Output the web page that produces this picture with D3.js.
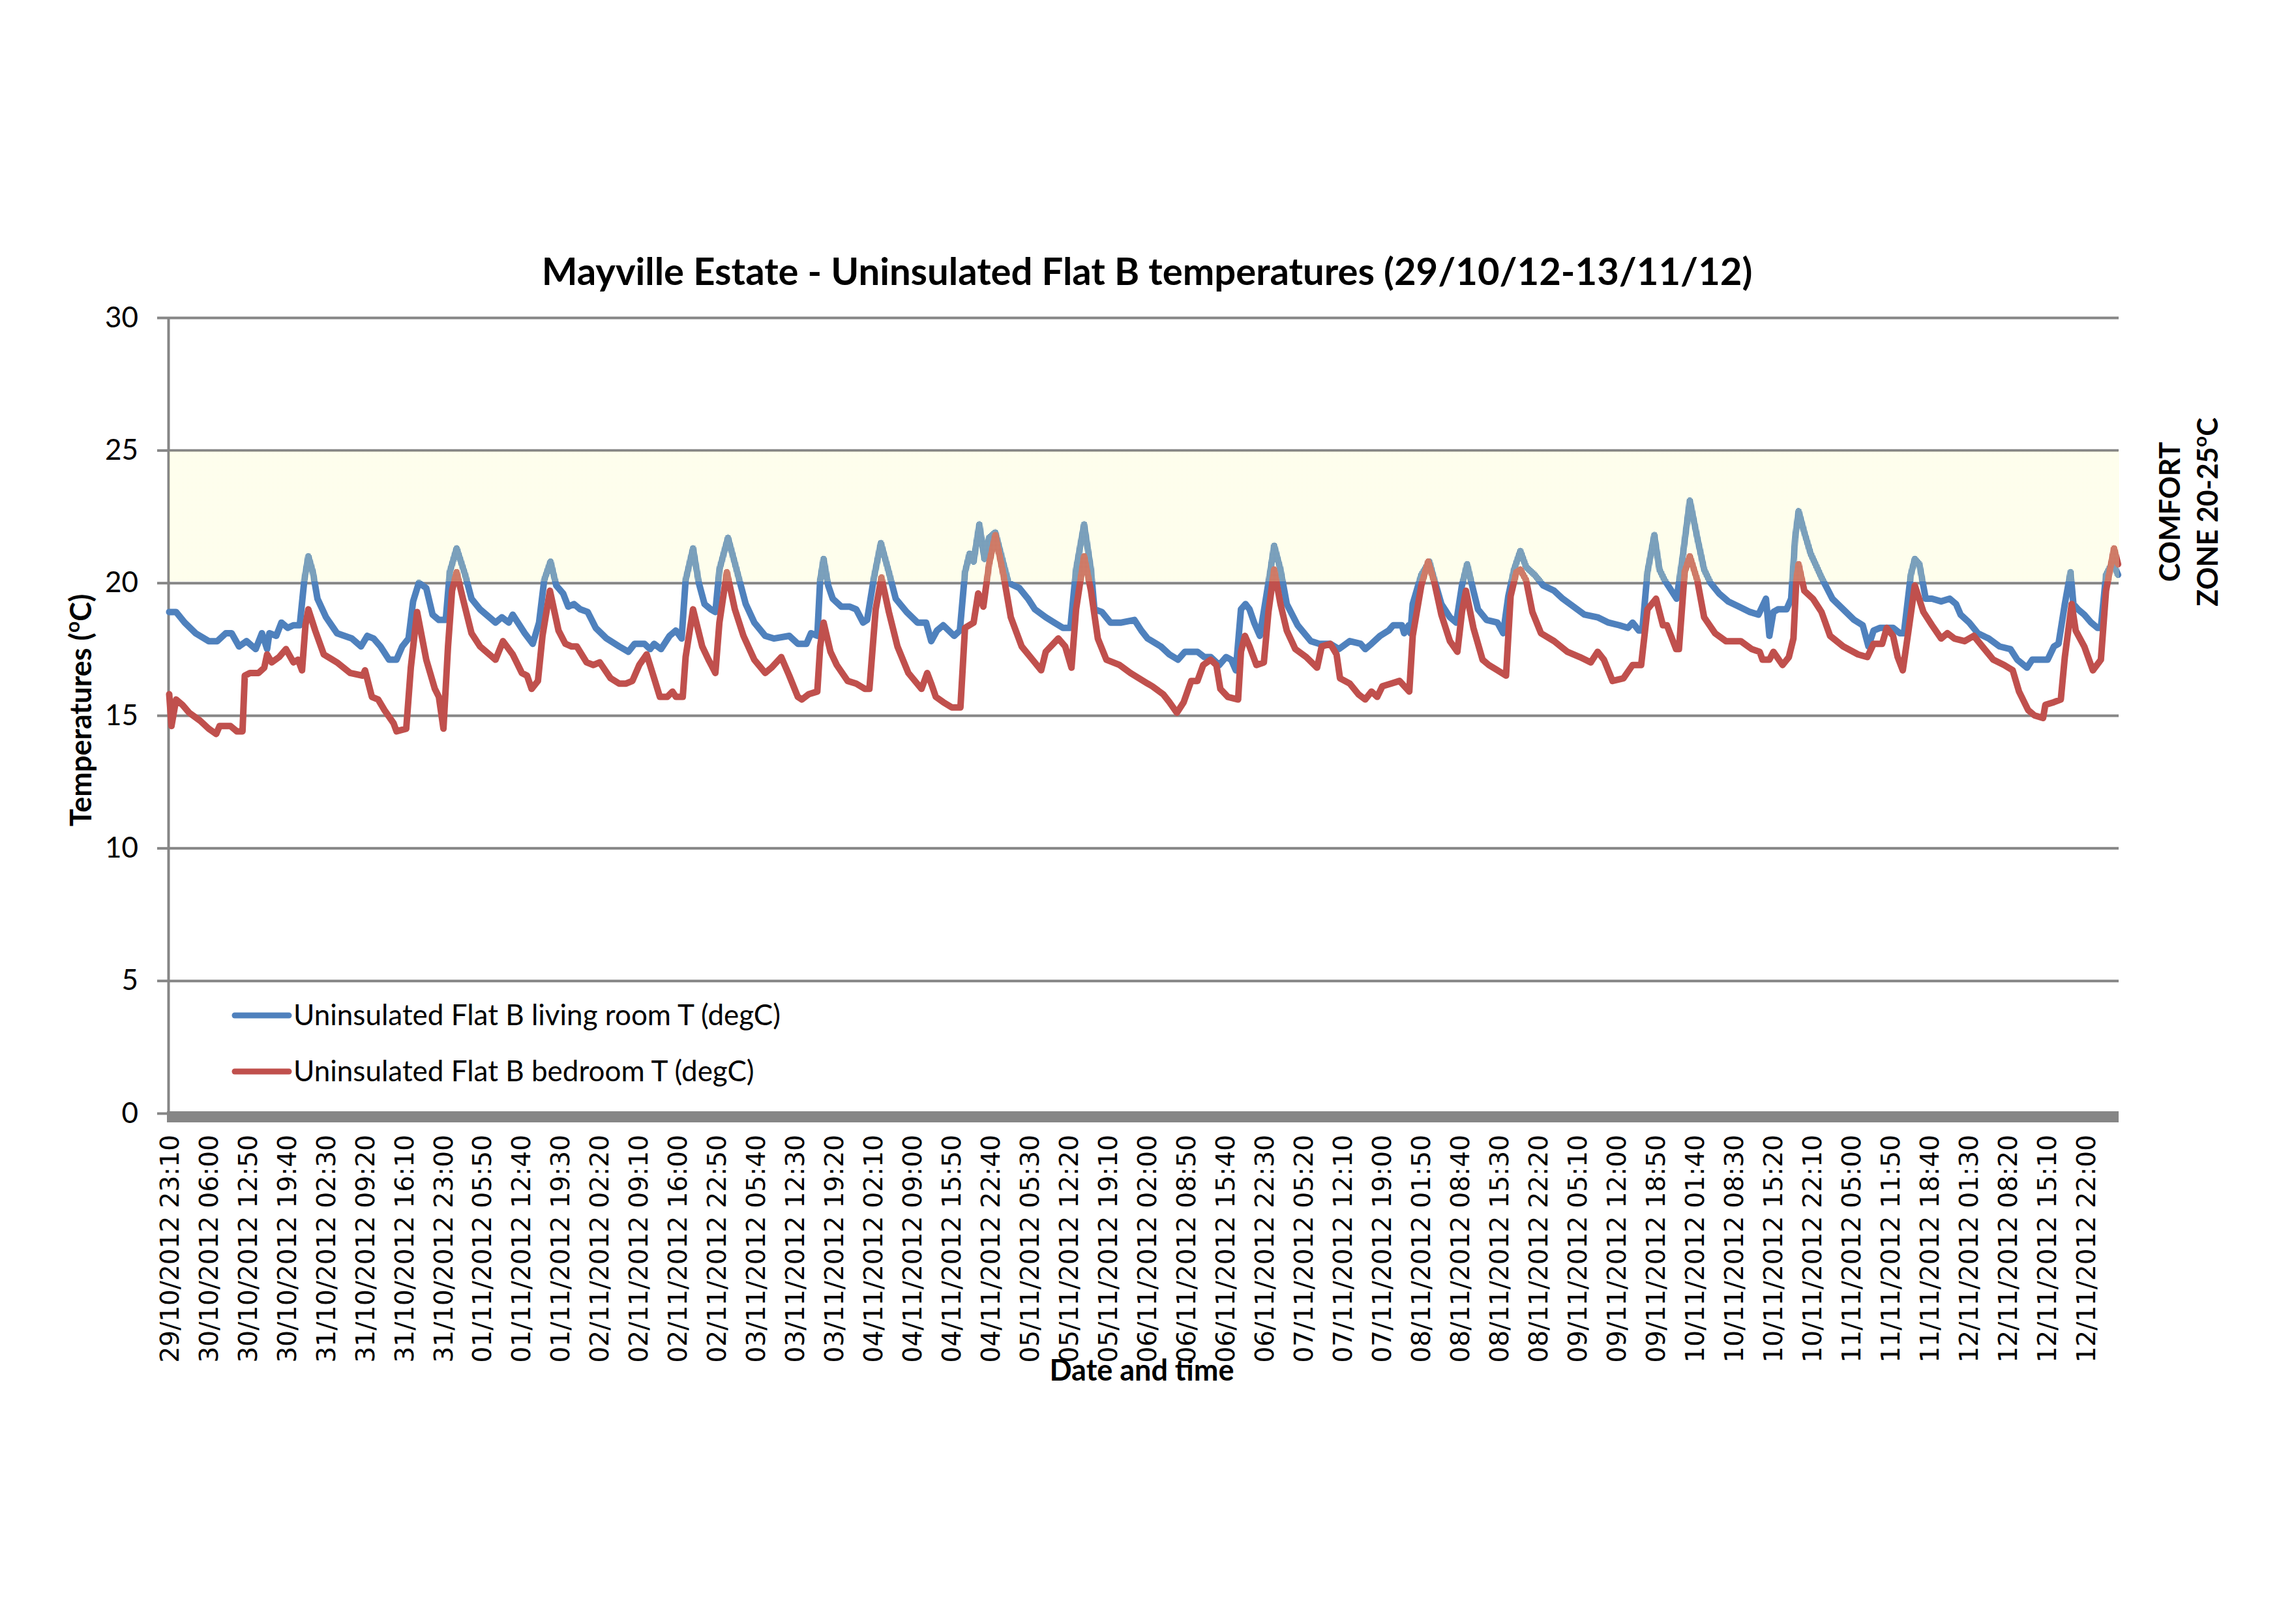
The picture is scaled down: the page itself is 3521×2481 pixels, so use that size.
<!DOCTYPE html>
<html>
<head>
<meta charset="utf-8">
<script src="https://d3js.org/d3.v7.min.js"></script>
<style>
  body { margin: 0; background: #ffffff; }
  text { font-family: Lato, "Open Sans", sans-serif; fill: #000; }
</style>
</head>
<body>
<div id="chart"></div>
<script>

// readings as [hours after 29/10/2012 23:10, degC]
var livingRoom = [
  [0.0,18.9],[1.2,18.9],[2.7,18.5],[4.6,18.1],[6.9,17.8],[8.4,17.8],[9.9,18.1],[10.9,18.1],[12.2,17.6],[13.5,17.8],
  [15.1,17.5],[16.2,18.1],[17.1,17.5],[17.5,18.1],[18.7,18.0],[19.6,18.5],[20.7,18.3],[21.7,18.4],[22.8,18.4],[23.6,20.1],
  [24.3,21.0],[25.1,20.4],[25.9,19.4],[27.4,18.7],[29.3,18.1],[31.9,17.9],[33.5,17.6],[34.6,18.0],[35.7,17.9],[36.9,17.6],
  [38.4,17.1],[39.7,17.1],[40.7,17.6],[41.8,17.9],[42.6,19.3],[43.6,20.0],[44.9,19.8],[46.0,18.8],[47.1,18.6],[48.3,18.6],
  [49.0,20.4],[50.2,21.3],[51.7,20.3],[52.8,19.4],[54.3,19.0],[57.0,18.5],[58.1,18.7],[59.3,18.5],[60.0,18.8],[61.2,18.4],
  [62.1,18.1],[63.5,17.7],[64.6,18.5],[65.5,20.1],[66.6,20.8],[67.6,19.9],[68.8,19.6],[69.7,19.1],[70.7,19.2],[71.8,19.0],
  [73.1,18.9],[74.5,18.3],[76.4,17.9],[78.6,17.6],[80.2,17.4],[81.3,17.7],[83.0,17.7],[84.0,17.5],[84.7,17.7],[85.9,17.5],
  [87.4,18.0],[88.5,18.2],[89.5,17.9],[90.2,20.1],[91.5,21.3],[92.5,20.0],[93.5,19.2],[94.6,19.0],[95.4,18.9],[96.1,20.5],
  [97.6,21.7],[99.1,20.5],[100.7,19.2],[102.2,18.5],[104.1,18.0],[105.6,17.9],[108.3,18.0],[109.8,17.7],[111.3,17.7],[112.1,18.1],
  [113.2,18.0],[113.7,20.1],[114.3,20.9],[115.1,19.9],[115.9,19.4],[117.4,19.1],[118.9,19.1],[120.0,19.0],[121.2,18.5],[121.9,18.6],
  [123.1,20.2],[124.3,21.5],[125.7,20.4],[126.9,19.4],[128.8,18.9],[130.7,18.5],[132.2,18.5],[133.1,17.8],[134.1,18.2],[135.2,18.4],
  [137.1,18.0],[138.1,18.2],[139.0,20.4],[139.8,21.1],[140.5,20.8],[141.5,22.2],[142.4,20.9],[143.2,21.7],[144.3,21.9],[145.5,20.9],
  [146.6,20.0],[148.5,19.8],[150.0,19.4],[151.2,19.0],[153.1,18.7],[154.6,18.5],[156.1,18.3],[157.4,18.3],[158.4,20.5],[159.8,22.2],
  [161.0,20.5],[161.6,19.0],[162.9,18.9],[164.4,18.5],[166.3,18.5],[168.6,18.6],[169.8,18.2],[170.9,17.9],[173.2,17.6],[174.7,17.3],
  [176.2,17.1],[177.4,17.4],[179.6,17.4],[180.8,17.2],[181.9,17.2],[183.4,16.9],[184.6,17.2],[185.5,17.1],[186.3,16.7],[187.2,19.0],
  [188.0,19.2],[188.7,19.0],[189.5,18.5],[190.5,18.0],[191.4,19.2],[192.3,20.4],[193.0,21.4],[194.1,20.5],[195.2,19.2],[197.1,18.4],
  [199.4,17.8],[200.9,17.7],[202.8,17.7],[204.3,17.5],[206.2,17.8],[208.1,17.7],[208.9,17.5],[210.0,17.7],[211.5,18.0],[213.0,18.2],
  [213.8,18.4],[215.3,18.4],[215.7,18.1],[216.5,18.4],[216.8,18.1],[217.2,19.2],[218.7,20.3],[220.1,20.8],[221.0,20.1],[222.2,19.2],
  [223.7,18.7],[224.8,18.5],[225.8,19.9],[226.7,20.7],[227.8,19.7],[228.6,19.0],[230.1,18.6],[232.0,18.5],[233.0,18.1],[233.9,19.5],
  [234.9,20.5],[236.0,21.2],[237.0,20.6],[238.5,20.3],[240.0,19.9],[241.9,19.7],[243.4,19.4],[245.3,19.1],[247.2,18.8],[249.5,18.7],
  [251.4,18.5],[253.3,18.4],[254.8,18.3],[255.6,18.5],[256.7,18.2],[257.3,18.2],[258.2,20.4],[259.4,21.8],[260.3,20.5],[261.2,20.1],
  [262.4,19.7],[263.3,19.4],[264.3,20.9],[265.6,23.1],[266.9,21.7],[268.1,20.5],[269.2,20.0],[270.7,19.6],[272.3,19.3],[274.2,19.1],
  [276.1,18.9],[277.6,18.8],[278.9,19.4],[279.5,18.0],[280.2,18.9],[281.0,19.0],[282.5,19.0],[283.3,19.4],[284.0,21.7],[284.6,22.7],
  [285.6,21.9],[286.7,21.1],[288.6,20.2],[290.5,19.4],[292.4,19.0],[294.3,18.6],[295.8,18.4],[296.8,17.6],[297.7,18.2],[298.8,18.3],
  [301.1,18.3],[302.3,18.1],[303.0,18.1],[304.2,20.3],[304.9,20.9],[305.7,20.7],[306.8,19.4],[307.9,19.4],[309.5,19.3],[311.0,19.4],
  [312.1,19.2],[312.9,18.8],[314.4,18.5],[315.9,18.1],[317.8,17.9],[319.7,17.6],[321.6,17.5],[322.8,17.1],[324.5,16.8],[325.4,17.1],
  [328.1,17.1],[329.2,17.6],[330.0,17.7],[331.1,19.2],[332.1,20.4],[332.6,19.2],[333.4,19.0],[334.5,18.8],[335.7,18.5],[336.8,18.3],
  [337.4,18.3],[338.3,20.3],[339.5,20.8],[340.2,20.4],[340.4,20.3]
];

var bedroom = [
  [0.0,15.8],[0.4,14.6],[1.2,15.6],[2.3,15.4],[3.5,15.1],[5.4,14.8],[6.9,14.5],[8.2,14.3],[8.8,14.6],[10.7,14.6],
  [11.8,14.4],[12.8,14.4],[13.2,16.5],[14.1,16.6],[15.6,16.6],[16.6,16.8],[17.1,17.3],[17.9,17.0],[19.2,17.2],[20.4,17.5],
  [21.7,17.0],[22.5,17.1],[23.2,16.7],[23.8,18.4],[24.3,19.0],[25.5,18.2],[27.0,17.3],[29.3,17.0],[31.6,16.6],[33.8,16.5],
  [34.2,16.7],[35.4,15.7],[36.5,15.6],[37.6,15.2],[39.2,14.7],[39.7,14.4],[41.4,14.5],[42.2,16.8],[43.3,18.9],[44.9,17.1],
  [46.4,16.0],[47.1,15.7],[47.9,14.5],[48.7,17.6],[49.4,19.7],[50.2,20.4],[51.3,19.4],[52.8,18.1],[54.3,17.6],[57.0,17.1],
  [58.3,17.8],[60.0,17.3],[61.6,16.6],[62.5,16.5],[63.3,16.0],[64.4,16.3],[65.2,18.0],[66.5,19.7],[68.0,18.2],[69.2,17.7],
  [70.3,17.6],[71.2,17.6],[72.9,17.0],[74.1,16.9],[75.2,17.0],[77.1,16.4],[78.6,16.2],[79.8,16.2],[80.9,16.3],[82.1,16.9],
  [83.4,17.3],[84.7,16.4],[85.7,15.7],[87.0,15.7],[87.9,15.9],[88.5,15.7],[89.7,15.7],[90.2,17.2],[91.5,19.0],[93.1,17.6],
  [94.2,17.1],[95.4,16.6],[96.1,18.5],[97.4,20.4],[98.8,19.0],[100.3,18.0],[102.2,17.1],[104.1,16.6],[105.2,16.8],[106.9,17.2],
  [108.3,16.5],[109.8,15.7],[110.5,15.6],[111.7,15.8],[113.2,15.9],[113.7,17.6],[114.3,18.5],[115.5,17.4],[116.6,16.9],[118.5,16.3],
  [120.0,16.2],[121.5,16.0],[122.3,16.0],[123.4,19.0],[124.4,20.2],[125.7,18.9],[127.2,17.6],[129.1,16.6],[131.4,16.0],[132.4,16.6],
  [133.1,16.2],[133.9,15.7],[135.2,15.5],[136.7,15.3],[138.2,15.3],[139.0,18.3],[140.5,18.5],[141.3,19.6],[142.2,19.1],[143.2,20.7],
  [144.3,21.8],[145.8,20.2],[147.0,18.7],[148.9,17.6],[150.8,17.1],[152.3,16.7],[153.1,17.4],[155.3,17.9],[156.5,17.6],[157.6,16.8],
  [158.4,19.0],[159.8,21.0],[161.0,19.7],[162.2,17.9],[163.7,17.1],[166.0,16.9],[167.9,16.6],[170.9,16.2],[171.7,16.1],[173.6,15.8],
  [174.7,15.5],[176.0,15.1],[177.2,15.5],[178.5,16.3],[179.6,16.3],[180.6,16.9],[181.9,17.1],[182.9,16.9],[183.6,16.0],[184.9,15.7],
  [186.7,15.6],[187.2,17.4],[187.9,18.0],[188.7,17.6],[189.9,16.9],[191.2,17.0],[192.0,18.9],[193.0,20.5],[194.1,19.2],[195.2,18.2],
  [196.7,17.5],[198.6,17.2],[200.5,16.8],[201.3,17.6],[202.8,17.7],[203.9,17.3],[204.5,16.4],[206.2,16.2],[207.7,15.8],[208.9,15.6],
  [210.0,15.9],[211.0,15.7],[211.9,16.1],[213.4,16.2],[214.9,16.3],[216.6,15.9],[217.2,18.0],[218.7,19.9],[219.9,20.8],[221.0,20.0],
  [222.2,18.8],[223.7,17.8],[225.0,17.4],[225.8,18.9],[226.5,19.7],[227.8,18.3],[229.4,17.1],[230.5,16.9],[232.0,16.7],[233.5,16.5],
  [234.3,19.5],[235.3,20.4],[236.0,20.5],[237.0,20.1],[238.1,18.9],[239.6,18.1],[241.9,17.8],[244.2,17.4],[246.4,17.2],[248.3,17.0],
  [249.5,17.4],[250.6,17.1],[252.1,16.3],[254.0,16.4],[255.6,16.9],[257.1,16.9],[258.2,19.0],[259.7,19.4],[260.9,18.4],[261.6,18.4],
  [263.2,17.5],[263.7,17.5],[264.7,20.4],[265.6,21.0],[266.9,20.1],[268.1,18.7],[270.0,18.1],[271.9,17.8],[274.5,17.8],[276.4,17.5],
  [277.8,17.4],[278.3,17.1],[279.5,17.1],[280.2,17.4],[281.8,16.9],[282.9,17.2],[283.7,17.9],[284.2,20.1],[284.6,20.7],[285.6,19.7],
  [287.1,19.4],[288.6,18.9],[290.1,18.0],[292.4,17.6],[295.0,17.3],[296.6,17.2],[297.7,17.7],[299.2,17.7],[300.0,18.3],[301.1,18.0],
  [301.9,17.2],[302.8,16.7],[303.8,18.2],[304.9,19.9],[306.4,18.9],[307.9,18.4],[309.5,17.9],[310.6,18.1],[311.8,17.9],[313.6,17.8],
  [315.2,18.0],[316.7,17.6],[318.6,17.1],[320.5,16.9],[322.0,16.7],[323.1,15.9],[324.7,15.2],[325.8,15.0],[327.3,14.9],[327.7,15.4],
  [329.2,15.5],[330.4,15.6],[331.1,17.2],[332.3,19.2],[333.0,18.2],[334.5,17.6],[336.0,16.7],[337.4,17.1],[338.3,19.7],[339.7,21.3],
  [340.4,20.7]
];

var xLabels = [
  "29/10/2012 23:10","30/10/2012 06:00","30/10/2012 12:50","30/10/2012 19:40","31/10/2012 02:30",
  "31/10/2012 09:20","31/10/2012 16:10","31/10/2012 23:00","01/11/2012 05:50","01/11/2012 12:40",
  "01/11/2012 19:30","02/11/2012 02:20","02/11/2012 09:10","02/11/2012 16:00","02/11/2012 22:50",
  "03/11/2012 05:40","03/11/2012 12:30","03/11/2012 19:20","04/11/2012 02:10","04/11/2012 09:00",
  "04/11/2012 15:50","04/11/2012 22:40","05/11/2012 05:30","05/11/2012 12:20","05/11/2012 19:10",
  "06/11/2012 02:00","06/11/2012 08:50","06/11/2012 15:40","06/11/2012 22:30","07/11/2012 05:20",
  "07/11/2012 12:10","07/11/2012 19:00","08/11/2012 01:50","08/11/2012 08:40","08/11/2012 15:30",
  "08/11/2012 22:20","09/11/2012 05:10","09/11/2012 12:00","09/11/2012 18:50","10/11/2012 01:40",
  "10/11/2012 08:30","10/11/2012 15:20","10/11/2012 22:10","11/11/2012 05:00","11/11/2012 11:50",
  "11/11/2012 18:40","12/11/2012 01:30","12/11/2012 08:20","12/11/2012 15:10","12/11/2012 22:00"
];
var labelStep = 41 / 6;   // a label every 41 ten-minute rows
var yTicks = [0, 5, 10, 15, 20, 25, 30];
var comfortZone = [20, 25];
var seriesNames = ["Uninsulated Flat B living room T (degC)", "Uninsulated Flat B bedroom T (degC)"];

var width = 3521, height = 2481;
var plot = {left: 258, right: 3249, top: 487, bottom: 1707};
var blue = "#4f81bd", red = "#c0504d", grid = "#868686";

var svg = d3.select("#chart").append("svg")
    .attr("width", width)
    .attr("height", height);

var x = d3.scaleLinear().domain([-0.17, 340.5]).range([plot.left, plot.right]);
var y = d3.scaleLinear().domain([0, 30]).range([plot.bottom, plot.top]);

// gridlines
svg.append("g")
    .attr("transform", "translate(" + plot.left + ",0)")
    .call(d3.axisLeft(y).tickValues(yTicks.slice(1)).tickSize(-(plot.right - plot.left)).tickFormat(""))
    .call(function(g) { g.select(".domain").remove(); })
    .selectAll("line").attr("stroke", grid).attr("stroke-width", 4);

// y axis with short ticks
var yAxis = svg.append("g")
    .attr("transform", "translate(" + plot.left + ",0)")
    .call(d3.axisLeft(y).tickValues(yTicks).tickSize(17).tickSizeOuter(0).tickPadding(29));
yAxis.select(".domain").attr("stroke", grid).attr("stroke-width", 4);
yAxis.selectAll(".tick line").attr("stroke", grid).attr("stroke-width", 4);
yAxis.selectAll(".tick text")
    .style("font-family", "Lato, sans-serif")
    .style("font-size", "44px")
    .attr("fill", "#000");

// lines
var line = d3.line()
    .x(function(d) { return x(d[0]); })
    .y(function(d) { return y(d[1]); });

svg.append("path").datum(livingRoom)
    .attr("d", line)
    .attr("fill", "none").attr("stroke", blue)
    .attr("stroke-width", 10).attr("stroke-linejoin", "round").attr("stroke-linecap", "round");

svg.append("path").datum(bedroom)
    .attr("d", line)
    .attr("fill", "none").attr("stroke", red)
    .attr("stroke-width", 10).attr("stroke-linejoin", "round").attr("stroke-linecap", "round");

// comfort zone, dotted overlay like the spreadsheet fill
var pat = svg.append("defs").append("pattern")
    .attr("id", "comfortDots")
    .attr("patternUnits", "userSpaceOnUse")
    .attr("width", 2).attr("height", 2);
pat.append("rect").attr("x", 0).attr("y", 0).attr("width", 1).attr("height", 1).attr("fill", "#fbfbb6");

svg.append("rect")
    .attr("x", plot.left + 2)
    .attr("y", y(comfortZone[1]) + 2)
    .attr("width", plot.right - plot.left - 2)
    .attr("height", y(comfortZone[0]) - y(comfortZone[1]) - 4)
    .attr("fill", "url(#comfortDots)");

// thick category axis line
svg.append("rect")
    .attr("x", plot.left - 2)
    .attr("y", y(0) - 3)
    .attr("width", plot.right - plot.left + 2)
    .attr("height", 17)
    .attr("fill", grid);

// category labels
svg.append("g").selectAll("text")
    .data(xLabels)
  .enter().append("text")
    .attr("transform", function(d, i) { return "translate(" + x(i * labelStep) + ",1740) rotate(-90)"; })
    .attr("dy", "0.36em")
    .attr("text-anchor", "end")
    .style("font-family", "'DejaVu Sans', sans-serif")
    .style("font-size", "39px")
    .text(function(d) { return d; });

// title
svg.append("text")
    .attr("x", 1759).attr("y", 437)
    .attr("text-anchor", "middle")
    .style("font-size", "58px").style("font-weight", "bold")
    .text("Mayville Estate - Uninsulated Flat B temperatures (29/10/12-13/11/12)");

// axis titles
var yTitle = svg.append("text")
    .attr("transform", "translate(140," + ((plot.top + plot.bottom) / 2 - 8) + ") rotate(-90)")
    .attr("text-anchor", "middle")
    .style("font-size", "45px").style("font-weight", "bold");
yTitle.append("tspan").text("Temperatures (");
yTitle.append("tspan").attr("baseline-shift", "super").style("font-size", "30px").text("o");
yTitle.append("tspan").text("C)");

svg.append("text")
    .attr("x", 1751).attr("y", 2117)
    .attr("text-anchor", "middle")
    .style("font-size", "45px").style("font-weight", "bold")
    .text("Date and time");

// comfort zone label
svg.append("text")
    .attr("transform", "translate(3343,785) rotate(-90)")
    .attr("text-anchor", "middle")
    .style("font-size", "43px").style("font-weight", "bold")
    .text("COMFORT");
var zoneLabel = svg.append("text")
    .attr("transform", "translate(3401,785) rotate(-90)")
    .attr("text-anchor", "middle")
    .style("font-size", "43px").style("font-weight", "bold");
zoneLabel.append("tspan").text("ZONE 20-25");
zoneLabel.append("tspan").attr("baseline-shift", "super").style("font-size", "29px").text("o");
zoneLabel.append("tspan").text("C");

// legend
var legend = svg.append("g").selectAll("g")
    .data(seriesNames)
  .enter().append("g")
    .attr("transform", function(d, i) { return "translate(360," + (1557 + i * 86) + ")"; });
legend.append("line")
    .attr("x1", 0).attr("x2", 83)
    .attr("stroke", function(d, i) { return i == 0 ? blue : red; })
    .attr("stroke-width", 9).attr("stroke-linecap", "round");
legend.append("text")
    .attr("x", 90).attr("dy", "0.35em")
    .style("font-size", "44px")
    .text(function(d) { return d; });

</script>
</body>
</html>
